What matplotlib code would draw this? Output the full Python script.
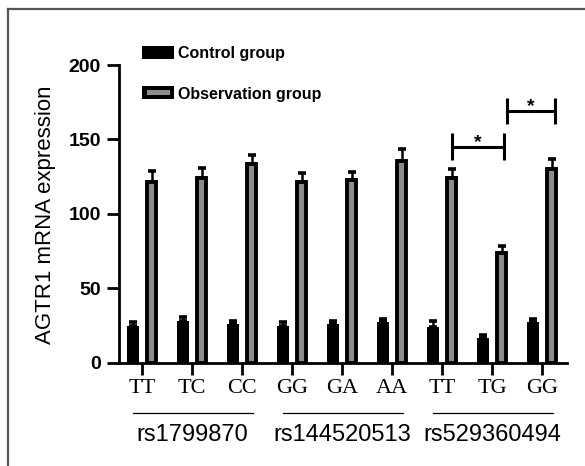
import matplotlib.pyplot as plt
from matplotlib.lines import Line2D
from matplotlib.patches import Rectangle
import numpy as np

# genotype labels and SNP groups
genotypes = ["TT", "TC", "CC", "GG", "GA", "AA", "TT", "TG", "GG"]
snp_names = ["rs1799870", "rs144520513", "rs529360494"]
snp_members = [(0, 2), (3, 5), (6, 8)]

control_mean = [24.7, 28.0, 26.0, 24.5, 25.7, 27.0, 23.7, 16.3, 27.0]
control_sd = [2.6, 2.3, 1.7, 2.9, 2.3, 2.0, 3.9, 1.9, 2.0]
obs_mean = [121.4, 123.7, 133.3, 121.4, 122.5, 135.5, 123.7, 73.9, 130.3]
obs_sd = [7.6, 7.3, 6.3, 6.3, 5.5, 7.9, 6.3, 4.1, 6.7]

# significance brackets: (left x, right x, line y, tick top, tick bottom)
sig_brackets = [(6.2, 7.24, 145.1, 154.1, 136.1), (7.29, 8.26, 169.3, 178.0, 160.1)]

W, H = 585, 466
SANS = "Liberation Sans"
SERIF = "Liberation Serif"
GRAY = "#8c8c8c"

fig = plt.figure(figsize=(W / 100, H / 100), dpi=100)
ax = fig.add_axes([119 / W, 1 - 362.5 / H, 448 / W, 297.5 / H])

x = np.arange(len(genotypes))
ax.bar(x - 0.19, control_mean, width=0.24, color="black", zorder=3)
ax.errorbar(x - 0.19, control_mean, yerr=[np.zeros(len(x)), control_sd], fmt="none",
            ecolor="black", elinewidth=1.8, capsize=2.7, capthick=2.6, zorder=2)
ax.bar(x + 0.19, obs_mean, width=0.163, color=GRAY, edgecolor="black", linewidth=2.8, zorder=3)
ax.errorbar(x + 0.19, obs_mean, yerr=[np.zeros(len(x)), obs_sd], fmt="none",
            ecolor="black", elinewidth=1.8, capsize=2.7, capthick=2.6, zorder=2)

ax.set_xlim(-0.46, 8.5)
ax.set_ylim(0, 200)
ax.set_yticks([0, 50, 100, 150, 200])
ax.set_xticks(x)
ax.set_xticklabels(genotypes, fontfamily=SERIF, fontsize=16)
for lab in ax.get_yticklabels():
    lab.set_fontfamily(SANS)
    lab.set_fontweight("bold")
    lab.set_fontsize(14)
ax.tick_params(axis="both", width=2, length=8.6, color="black")
ax.tick_params(axis="y", pad=4.3)
ax.tick_params(axis="x", pad=3)
for side in ["top", "right"]:
    ax.spines[side].set_visible(False)
for side in ["left", "bottom"]:
    ax.spines[side].set_linewidth(2)

# brackets with stars
for x0, x1, yl, yt, yb in sig_brackets:
    ax.plot([x0, x1], [yl, yl], color="black", lw=2.2, solid_capstyle="butt", clip_on=False)
    ax.plot([x0, x0], [yb, yt], color="black", lw=2.2, solid_capstyle="butt", clip_on=False)
    ax.plot([x1, x1], [yb, yt], color="black", lw=2.2, solid_capstyle="butt", clip_on=False)
    ax.text((x0 + x1) / 2, yl, "*", ha="center", va="baseline", fontsize=14,
            fontweight="bold", fontfamily=SANS)

# SNP group lines and names under the genotype labels
tr = ax.get_xaxis_transform()
for name, (a, b) in zip(snp_names, snp_members):
    ax.plot([a - 0.18, b + 0.22], [-0.1708, -0.1708], color="black", lw=0.9,
            transform=tr, clip_on=False)
    ax.text((a + b) / 2, -0.2437, name, ha="center", va="center", fontsize=17,
            fontfamily=SANS, transform=tr)

fig.text(46 / W, 1 - 215 / H, "AGTR1 mRNA expression", rotation=90, ha="center",
         va="center", fontsize=16, fontfamily=SANS)


# legend drawn by hand in pixel positions
def px_rect(x0, y0, x1, y1, color):
    fig.add_artist(Rectangle((x0 / W, 1 - y1 / H), (x1 - x0) / W, (y1 - y0) / H,
                             facecolor=color, edgecolor="none", transform=fig.transFigure))


px_rect(142.3, 46, 174, 59, "black")
px_rect(142.3, 86, 174, 99, "black")
px_rect(146.5, 90, 170, 95, GRAY)
fig.text(178.3 / W, 1 - 58.3 / H, "Control group", ha="left", va="baseline",
         fontsize=11.5, fontweight="bold", fontfamily=SANS)
fig.text(178.3 / W, 1 - 98.5 / H, "Observation group", ha="left", va="baseline",
         fontsize=11.5, fontweight="bold", fontfamily=SANS)

# grey frame round the panel
fig.add_artist(Line2D([8 / W, 1], [1 - 8.8 / H, 1 - 8.8 / H], color="#555555", lw=1.6))
fig.add_artist(Line2D([8 / W, 8 / W], [0, 1 - 8.8 / H], color="#555555", lw=1.6))

fig.savefig("out.png", dpi=100)
